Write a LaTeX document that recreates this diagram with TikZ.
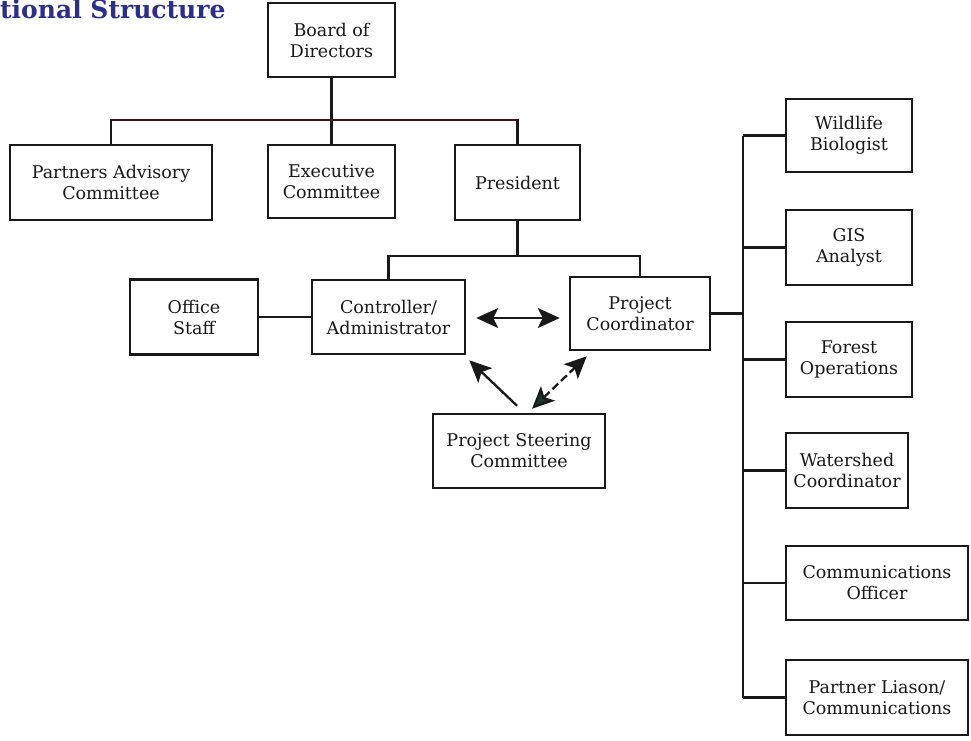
\documentclass[tikz,border=0pt]{standalone}
\usepackage{fontspec}
\setmainfont{DejaVu Serif}
\usetikzlibrary{arrows.meta,calc}
\definecolor{ink}{RGB}{25,25,25}
\definecolor{titleblue}{RGB}{45,45,140}
\definecolor{barred}{RGB}{75,15,25}
\definecolor{tipgreen}{RGB}{25,55,45}
\tikzset{
  box/.style={draw=ink, line width=2.5pt, fill=white, align=center, inner sep=2pt,
    font=\fontsize{17.5}{21}\selectfont, text=ink},
  conn/.style={draw=ink, line width=2.3pt},
  bigtip/.tip={Stealth[length=22pt,width=20pt,inset=5pt]},
  greentip/.tip={Stealth[length=22pt,width=20pt,inset=5pt,fill=tipgreen]}
}
\begin{document}
\begin{tikzpicture}[x=1pt,y=-1pt]
\useasboundingbox (0,0) rectangle (971,740);
\node[anchor=base west, text=titleblue, font=\bfseries\fontsize{25}{28}\selectfont, inner sep=0pt] (title) at (0,18.5) {tional Structure};
% boxes
\node[box, minimum width=127pt, minimum height=74pt] (board) at (331.5,40) {Board of\\Directors};
\node[box, minimum width=202pt, minimum height=75pt] (pac) at (111,182.5) {Partners Advisory\\Committee};
\node[box, minimum width=127pt, minimum height=73pt] (exec) at (331.5,181.5) {Executive\\Committee};
\node[box, minimum width=125pt, minimum height=75pt] (pres) at (517.5,182.5) {President};
\node[box, minimum width=128pt, minimum height=75pt] (office) at (194,317) {Office\\Staff};
\node[box, minimum width=153pt, minimum height=74pt] (ctrl) at (388.5,317) {Controller/\\Administrator};
\node[box, minimum width=140pt, minimum height=73pt] (pc) at (640,313.5) {Project\\Coordinator};
\node[box, minimum width=172pt, minimum height=74pt] (psc) at (519,451) {Project Steering\\Committee};
\node[box, minimum width=126pt, minimum height=73pt] (wild) at (849,135.5) {Wildlife\\Biologist};
\node[box, minimum width=126pt, minimum height=75pt] (gis) at (849,247.5) {GIS\\Analyst};
\node[box, minimum width=126pt, minimum height=75pt] (forest) at (849,359.5) {Forest\\Operations};
\node[box, minimum width=122pt, minimum height=75pt] (water) at (847,470.5) {Watershed\\Coordinator};
\node[box, minimum width=182pt, minimum height=74pt] (comm) at (877,583) {Communications\\Officer};
\node[box, minimum width=182pt, minimum height=75pt] (pl) at (877,697.5) {Partner Liason/\\Communications};
% junctions
\coordinate (j1) at (331.5,120);
\coordinate (j2) at (517.5,256);
\coordinate (sp) at (743,0);
% top tree
\draw[conn] (board.south) -- (exec.north);
\draw[conn, draw=barred] (pac.north) |- (j1) -| (pres.north);
\draw[conn] (pac.north) -- ++(0,-25);
\draw[conn] (pres.north) -- ++(0,-25);
\draw[conn] (pres.south) -- (j2);
\draw[conn] (ctrl.north) |- (j2) -| (pc.north);
\draw[conn] (office.east) -- (ctrl.west);
% arrows
\draw[conn, bigtip-bigtip] ($(ctrl.east)+(10,1)$) -- ($(pc.west)+(-9,4.5)$);
\draw[conn, -bigtip] ($(psc.north)+(-2,-7)$) -- ($(ctrl.south east)+(3,5)$);
\draw[conn, dash pattern=on 8pt off 4pt, greentip-bigtip] ($(psc.north)+(13,-4)$) -- ($(pc.south west)+(18,5)$);
% right spine
\draw[conn] (pc.east) -- (pc.east -| sp);
\draw[conn] (wild.west -| sp) -- (pl.west -| sp);
\foreach \b in {wild,gis,forest,water,comm,pl} {
  \draw[conn] (\b.west -| sp) -- (\b.west);
}
\end{tikzpicture}
\end{document}
